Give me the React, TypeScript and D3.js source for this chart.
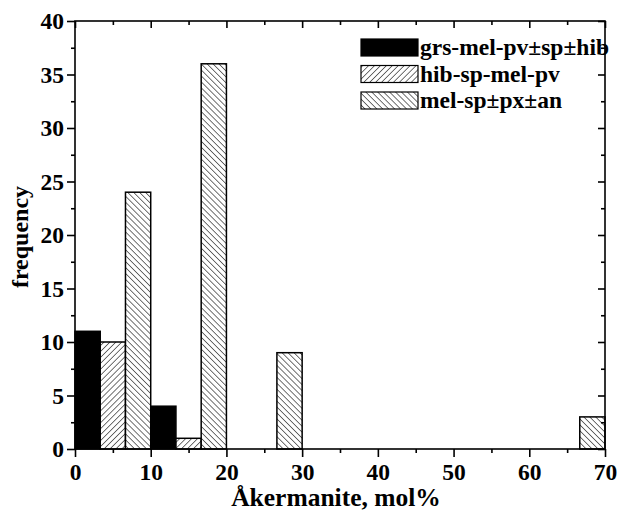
import React, { useEffect, useRef } from 'react';
import * as d3 from 'd3';

// bins of Åkermanite content (lower edge, mol%)
const bins = ['0', '10', '20', '30', '40', '50', '60'];
const seriesNames = ['grs-mel-pv±sp±hib', 'hib-sp-mel-pv', 'mel-sp±px±an'];
const grsValues = [11, 4, 0, 0, 0, 0, 0];
const hibValues = [10, 1, 0, 0, 0, 0, 0];
const melValues = [24, 36, 9, 0, 0, 0, 3];
const xTicks = [0, 10, 20, 30, 40, 50, 60, 70];
const yTicks = [0, 5, 10, 15, 20, 25, 30, 35, 40];

const App = () => {
  const svgRef = useRef<SVGSVGElement>(null);

  useEffect(() => {
    const width = 620;
    const height = 511;
    const margin = { top: 21, right: 15, bottom: 62, left: 75 };
    const font = '"Liberation Serif", "Times New Roman", serif';

    const svg = d3.select(svgRef.current);
    svg.selectAll('*').remove();
    svg.attr('width', width).attr('height', height);

    // hatch patterns
    const defs = svg.append('defs');
    const hatch = (id: string, angle: number) => {
      const p = defs.append('pattern')
        .attr('id', id)
        .attr('patternUnits', 'userSpaceOnUse')
        .attr('width', 4.2)
        .attr('height', 4.2)
        .attr('patternTransform', `rotate(${angle})`);
      p.append('rect').attr('width', 4.2).attr('height', 4.2).attr('fill', '#fff');
      p.append('line')
        .attr('x1', 0).attr('y1', 0).attr('x2', 0).attr('y2', 4.2)
        .attr('stroke', '#000').attr('stroke-width', 1.1);
    };
    hatch('fwd', 45);
    hatch('back', -45);
    const fills = ['#000', 'url(#fwd)', 'url(#back)'];

    const x = d3.scaleLinear().domain([0, 70]).range([margin.left, width - margin.right]);
    const y = d3.scaleLinear().domain([0, 40]).range([height - margin.bottom, margin.top]);

    const xBin = d3.scaleBand().domain(bins).range([x(0), x(70)]).padding(0);
    const xSeries = d3.scaleBand().domain(seriesNames).range([0, xBin.bandwidth()]).padding(0);

    const allSeries = [grsValues, hibValues, melValues];
    allSeries.forEach((vals, si) => {
      svg.append('g')
        .selectAll('rect')
        .data(vals.map((v, i) => ({ bin: bins[i], v })).filter(d => d.v > 0))
        .enter().append('rect')
        .attr('x', d => (xBin(d.bin) as number) + (xSeries(seriesNames[si]) as number))
        .attr('y', d => y(d.v))
        .attr('width', xSeries.bandwidth())
        .attr('height', d => y(0) - y(d.v))
        .attr('fill', fills[si])
        .attr('stroke', '#000')
        .attr('stroke-width', 1.5);
    });

    // axes
    const styleAxis = (g: any) => {
      g.select('.domain').remove();
      g.selectAll('line').attr('stroke', '#000').attr('stroke-width', 1.6);
      g.selectAll('text')
        .attr('font-family', font)
        .attr('font-weight', 'bold')
        .attr('font-size', 23.5)
        .attr('fill', '#000');
    };
    const xMinor = d3.range(5, 70, 10);
    const yMinor = d3.range(2.5, 40, 5);

    svg.append('g').attr('transform', `translate(0,${y(0)})`)
      .call(d3.axisBottom(x).tickValues(xTicks).tickSize(8).tickPadding(6).tickFormat(d3.format('d')))
      .call(styleAxis);
    svg.append('g').attr('transform', `translate(0,${y(0)})`)
      .call(d3.axisBottom(x).tickValues(xMinor).tickSize(4).tickFormat(() => ''))
      .call(styleAxis);
    svg.append('g').attr('transform', `translate(${x(0)},0)`)
      .call(d3.axisLeft(y).tickValues(yTicks).tickSize(8).tickPadding(3).tickFormat(d3.format('d')))
      .call(styleAxis);
    svg.append('g').attr('transform', `translate(${x(0)},0)`)
      .call(d3.axisLeft(y).tickValues(yMinor).tickSize(4).tickFormat(() => ''))
      .call(styleAxis);
    // mirrored inward ticks on top and right
    svg.append('g').attr('transform', `translate(0,${y(40)})`)
      .call(d3.axisTop(x).tickValues(xTicks).tickSize(-7).tickFormat(() => ''))
      .call(styleAxis);
    svg.append('g').attr('transform', `translate(0,${y(40)})`)
      .call(d3.axisTop(x).tickValues(xMinor).tickSize(-4).tickFormat(() => ''))
      .call(styleAxis);
    svg.append('g').attr('transform', `translate(${x(70)},0)`)
      .call(d3.axisRight(y).tickValues(yTicks).tickSize(-7).tickFormat(() => ''))
      .call(styleAxis);
    svg.append('g').attr('transform', `translate(${x(70)},0)`)
      .call(d3.axisRight(y).tickValues(yMinor).tickSize(-4).tickFormat(() => ''))
      .call(styleAxis);

    // frame
    svg.append('rect')
      .attr('x', x(0)).attr('y', y(40))
      .attr('width', x(70) - x(0)).attr('height', y(0) - y(40))
      .attr('fill', 'none').attr('stroke', '#000').attr('stroke-width', 1.6);

    // axis titles
    svg.append('text')
      .attr('x', 336).attr('y', 506)
      .attr('text-anchor', 'middle')
      .attr('font-family', font).attr('font-weight', 'bold').attr('font-size', 25.5)
      .text('Åkermanite, mol%');
    svg.append('text')
      .attr('transform', 'rotate(-90)')
      .attr('x', -237).attr('y', 28)
      .attr('text-anchor', 'middle')
      .attr('font-family', font).attr('font-weight', 'bold').attr('font-size', 24)
      .text('frequency');

    // legend
    const legend = svg.append('g');
    seriesNames.forEach((name, i) => {
      const ly = 39 + i * 26.5;
      legend.append('rect')
        .attr('x', 361).attr('y', ly)
        .attr('width', 57).attr('height', 17)
        .attr('fill', fills[i]).attr('stroke', '#000').attr('stroke-width', 1.2);
      legend.append('text')
        .attr('x', 420).attr('y', ly + 16)
        .attr('font-family', font).attr('font-weight', 'bold').attr('font-size', 23.5)
        .text(name);
    });
  }, []);

  return (
    <svg ref={svgRef} style={{ position: 'absolute', left: 0, top: 0, background: '#fff' }}></svg>
  );
};

export default App;
